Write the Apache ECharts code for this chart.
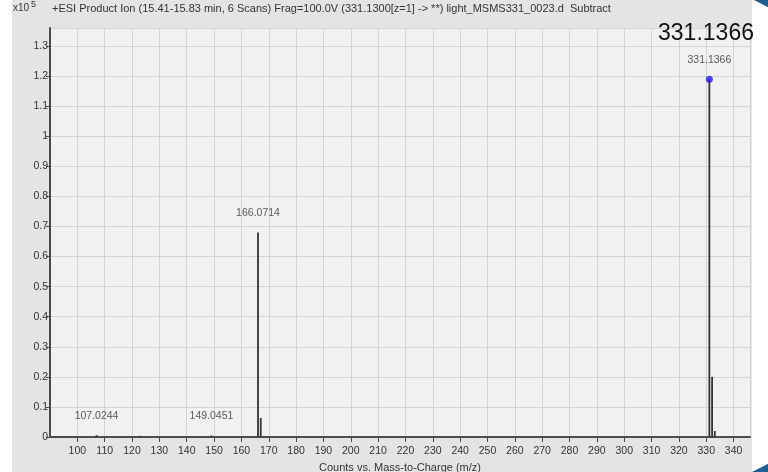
<!DOCTYPE html>
<html>
<head>
<meta charset="utf-8">
<script src="https://cdn.jsdelivr.net/npm/echarts@6/dist/echarts.min.js"></script>
<style>
    html, body{ margin: 0; padding: 0; background: #ffffff;}
    #chart{ width: 768px; height: 472px;}
</style>
</head>
<body>
<div id="chart"></div>
<script>
    // peak list (m/z, intensity x10^5)
    const peakMz        = [107.0244, 123.05, 149.0451, 166.0714, 167.07, 331.1366, 332.14, 333.13];
    const peakIntensity = [0.006,    0.004,  0.005,    0.68,     0.063,  1.19,     0.2,    0.02];
    // peaks that carry an m/z label
    const labelMz        = [107.0244, 149.0451, 166.0714, 331.1366];
    const labelIntensity = [0.006,    0.005,    0.68,     1.19];
    // selected precursor (blue dot + big callout)
    const selectedMz = 331.1366;
    const selectedIntensity = 1.19;
    // acquired scan range (baseline)
    const scanRange = [100, 345];

    const titleText = '+ESI Product Ion (15.41-15.83 min, 6 Scans) Frag=100.0V (331.1300[z=1] -> **) light_MSMS331_0023.d  Subtract';
    const xName = 'Counts vs. Mass-to-Charge (m/z)';

    const font = '"Liberation Sans", Arial, sans-serif';
    const chart = echarts.init(document.getElementById('chart'));

    chart.setOption({
        backgroundColor: '#ffffff',
        animation: false,
        grid: { left: 50, right: 18, top: 28, bottom: 35, outerBoundsMode: 'none', containLabel: false, show: true, backgroundColor: '#f1f1f1', borderWidth: 0 },
        graphic: [
            { type: 'rect', z: -10, silent: true, shape: { x: 12, y: 0, width: 740, height: 472 }, style: { fill: '#e4e4e4' } },
            { type: 'text', left: 13, top: 3, style: { text: 'x10', font: '10px ' + font, fill: '#333' } },
            { type: 'text', left: 31, top: 0, style: { text: '5', font: '9px ' + font, fill: '#333' } },
            { type: 'text', left: 52, top: 3, style: { text: titleText, font: '11px ' + font, fill: '#333' } },
            { type: 'text', z: 100, style: { text: selectedMz.toFixed(4), x: 706, y: 34, align: 'center', verticalAlign: 'middle', font: '23px ' + font, fill: '#111' } },
            { type: 'arc', z: 100, silent: true, shape: { cx: 640, cy: 236, r: 266, startAngle: -1.25, endAngle: -0.85 }, style: { stroke: '#1d5d91', lineWidth: 8, fill: null } },
            { type: 'arc', z: 100, silent: true, shape: { cx: 641, cy: 234, r: 266, startAngle: 0.85, endAngle: 1.25 }, style: { stroke: '#1d5d91', lineWidth: 7, fill: null } }
        ],
        xAxis: {
            type: 'value',
            min: 90, max: 346, interval: 10,
            offset: 4,
            name: xName, nameLocation: 'middle', nameGap: 21,
            nameTextStyle: { fontFamily: font, fontSize: 11, color: '#333' },
            axisLine: { lineStyle: { color: '#4a4a4a', width: 2 } },
            axisTick: { length: 5, lineStyle: { color: '#4a4a4a' } },
            axisLabel: { showMinLabel: false, showMaxLabel: false, fontFamily: font, fontSize: 10.5, color: '#333', margin: 5 },
            splitLine: { lineStyle: { color: '#d4d4d4' } }
        },
        yAxis: {
            type: 'value',
            min: 0, max: 1.36, interval: 0.1,
            axisLine: { show: true, lineStyle: { color: '#4a4a4a', width: 2 } },
            axisTick: { show: true, length: 4, lineStyle: { color: '#4a4a4a' } },
            axisLabel: { showMaxLabel: false, fontFamily: font, fontSize: 10.5, color: '#333', margin: 2 },
            splitLine: { lineStyle: { color: '#d4d4d4' } }
        },
        series: [
            {
                type: 'line', z: 3, symbol: 'none',
                data: [[scanRange[0], 0], [scanRange[1], 0]],
                lineStyle: { color: '#555', width: 1 }
            },
            {
                type: 'custom', z: 4,
                data: peakMz.map((m, i) => [m, peakIntensity[i]]),
                renderItem: function(params, api){
                    const b = api.coord([api.value(0), 0]);
                    const t = api.coord([api.value(0), api.value(1)]);
                    return { type: 'line', shape: { x1: b[0], y1: b[1], x2: t[0], y2: t[1] }, style: { stroke: '#333', lineWidth: 1.8 } };
                }
            },
            {
                type: 'scatter', z: 5, symbolSize: 0,
                data: labelMz.map((m, i) => [m, labelIntensity[i]]),
                label: {
                    show: true, position: 'top', distance: 14,
                    fontFamily: font, fontSize: 10.5, color: '#333',
                    formatter: p => p.value[0].toFixed(4)
                }
            },
            {
                type: 'scatter', z: 6, symbol: 'circle', symbolSize: 7,
                data: [[selectedMz, selectedIntensity]],
                itemStyle: { color: '#1a1aff' }
            }
        ]
    });
</script>
</body>
</html>
